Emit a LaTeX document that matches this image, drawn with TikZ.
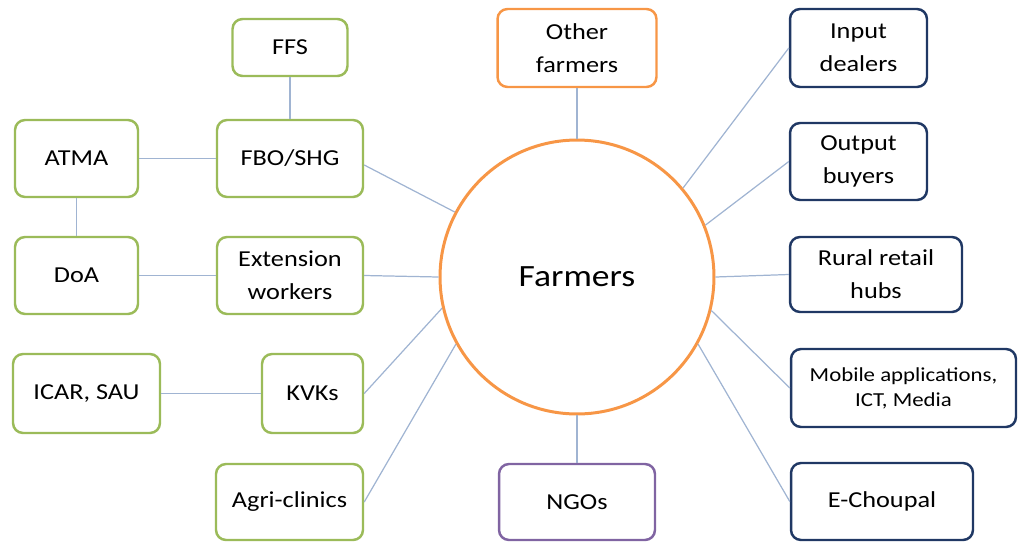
\documentclass[tikz,border=0pt]{standalone}
\usepackage{fontspec}
\setmainfont{Carlito}[FakeStretch=1.15]
\usepackage{tikz}
\definecolor{boxgreen}{RGB}{155,187,89}
\definecolor{boxorange}{RGB}{247,150,70}
\definecolor{boxnavy}{RGB}{32,56,100}
\definecolor{boxpurple}{RGB}{128,100,162}
\definecolor{linkblue}{RGB}{160,180,210}

\begin{document}
\begin{tikzpicture}[x=0.02cm,y=-0.02cm,
    box/.style={draw,rounded corners=0.2cm,line width=1.4pt,inner sep=0pt,
      align=center,minimum height=1.54cm,
      font=\fontsize{13}{18.7}\selectfont},
    greenbox/.style={box,draw=boxgreen},
    orangebox/.style={box,draw=boxorange},
    navybox/.style={box,draw=boxnavy},
    purplebox/.style={box,draw=boxpurple},
    link/.style={draw=linkblue,line width=0.7pt}]
  \useasboundingbox (0,0) rectangle (1018,542);
  % centre
  \node[circle,draw=boxorange,line width=1.7pt,minimum size=5.48cm,
    font=\fontsize{17.6}{20}\selectfont] (farmers) at (577,277) {Farmers};
  % left side
  \node[greenbox,minimum width=2.3cm,minimum height=1.14cm] (ffs) at (290,47.5) {FFS};
  \node[greenbox,minimum width=2.46cm] (atma) at (76.5,158.5) {ATMA};
  \node[greenbox,minimum width=2.92cm] (fbo) at (290,158.5) {FBO/SHG};
  \node[greenbox,minimum width=2.46cm] (doa) at (76.5,275.5) {DoA};
  \node[greenbox,minimum width=2.92cm] (ext) at (290,275.5) {Extension\\workers};
  \node[greenbox,minimum width=2.94cm,minimum height=1.58cm] (icar) at (86.5,393.5) {ICAR, SAU};
  \node[greenbox,minimum width=2.02cm,minimum height=1.58cm] (kvk) at (312.5,393.5) {KVKs};
  \node[greenbox,minimum width=2.94cm,minimum height=1.52cm] (agri) at (289.5,502) {Agri-clinics};
  % top and bottom
  \node[orangebox,minimum width=3.18cm,minimum height=1.56cm] (other) at (577,48) {Other\\farmers};
  \node[purplebox,minimum width=3.12cm,minimum height=1.52cm] (ngo) at (577,502) {NGOs};
  % right side
  \node[navybox,minimum width=2.74cm,minimum height=1.56cm] (input) at (858.5,48) {Input\\dealers};
  \node[navybox,minimum width=2.74cm] (output) at (858.5,161.5) {Output\\buyers};
  \node[navybox,minimum width=3.44cm,minimum height=1.5cm] (rural) at (876,274.5) {Rural retail\\hubs};
  \node[navybox,minimum width=4.5cm,minimum height=1.56cm,
    font=\fontsize{11.3}{14.2}\selectfont] (mobile) at (903.5,388) {Mobile applications,\\ICT, Media};
  \node[navybox,minimum width=3.64cm] (echoupal) at (882,501.5) {E-Choupal};
  % connectors
  \draw[link] (ffs) -- (fbo);
  \draw[link] (atma) -- (fbo);
  \draw[link] (atma) -- (doa);
  \draw[link] (doa) -- (ext);
  \draw[link] (icar) -- (kvk);
  \draw[link] (fbo.-5) -- (farmers.152);
  \draw[link] (ext.east) -- (farmers.180);
  \draw[link] (kvk.east) -- (farmers.193);
  \draw[link] (agri.east) -- (farmers.209);
  \draw[link] (other) -- (farmers);
  \draw[link] (ngo) -- (farmers);
  \draw[link] (input.west) -- (farmers.40);
  \draw[link] (output.west) -- (farmers.22);
  \draw[link] (rural.west) -- (farmers.0);
  \draw[link] (mobile.west) -- (farmers.-14);
  \draw[link] (echoupal.west) -- (farmers.-29);
\end{tikzpicture}
\end{document}
